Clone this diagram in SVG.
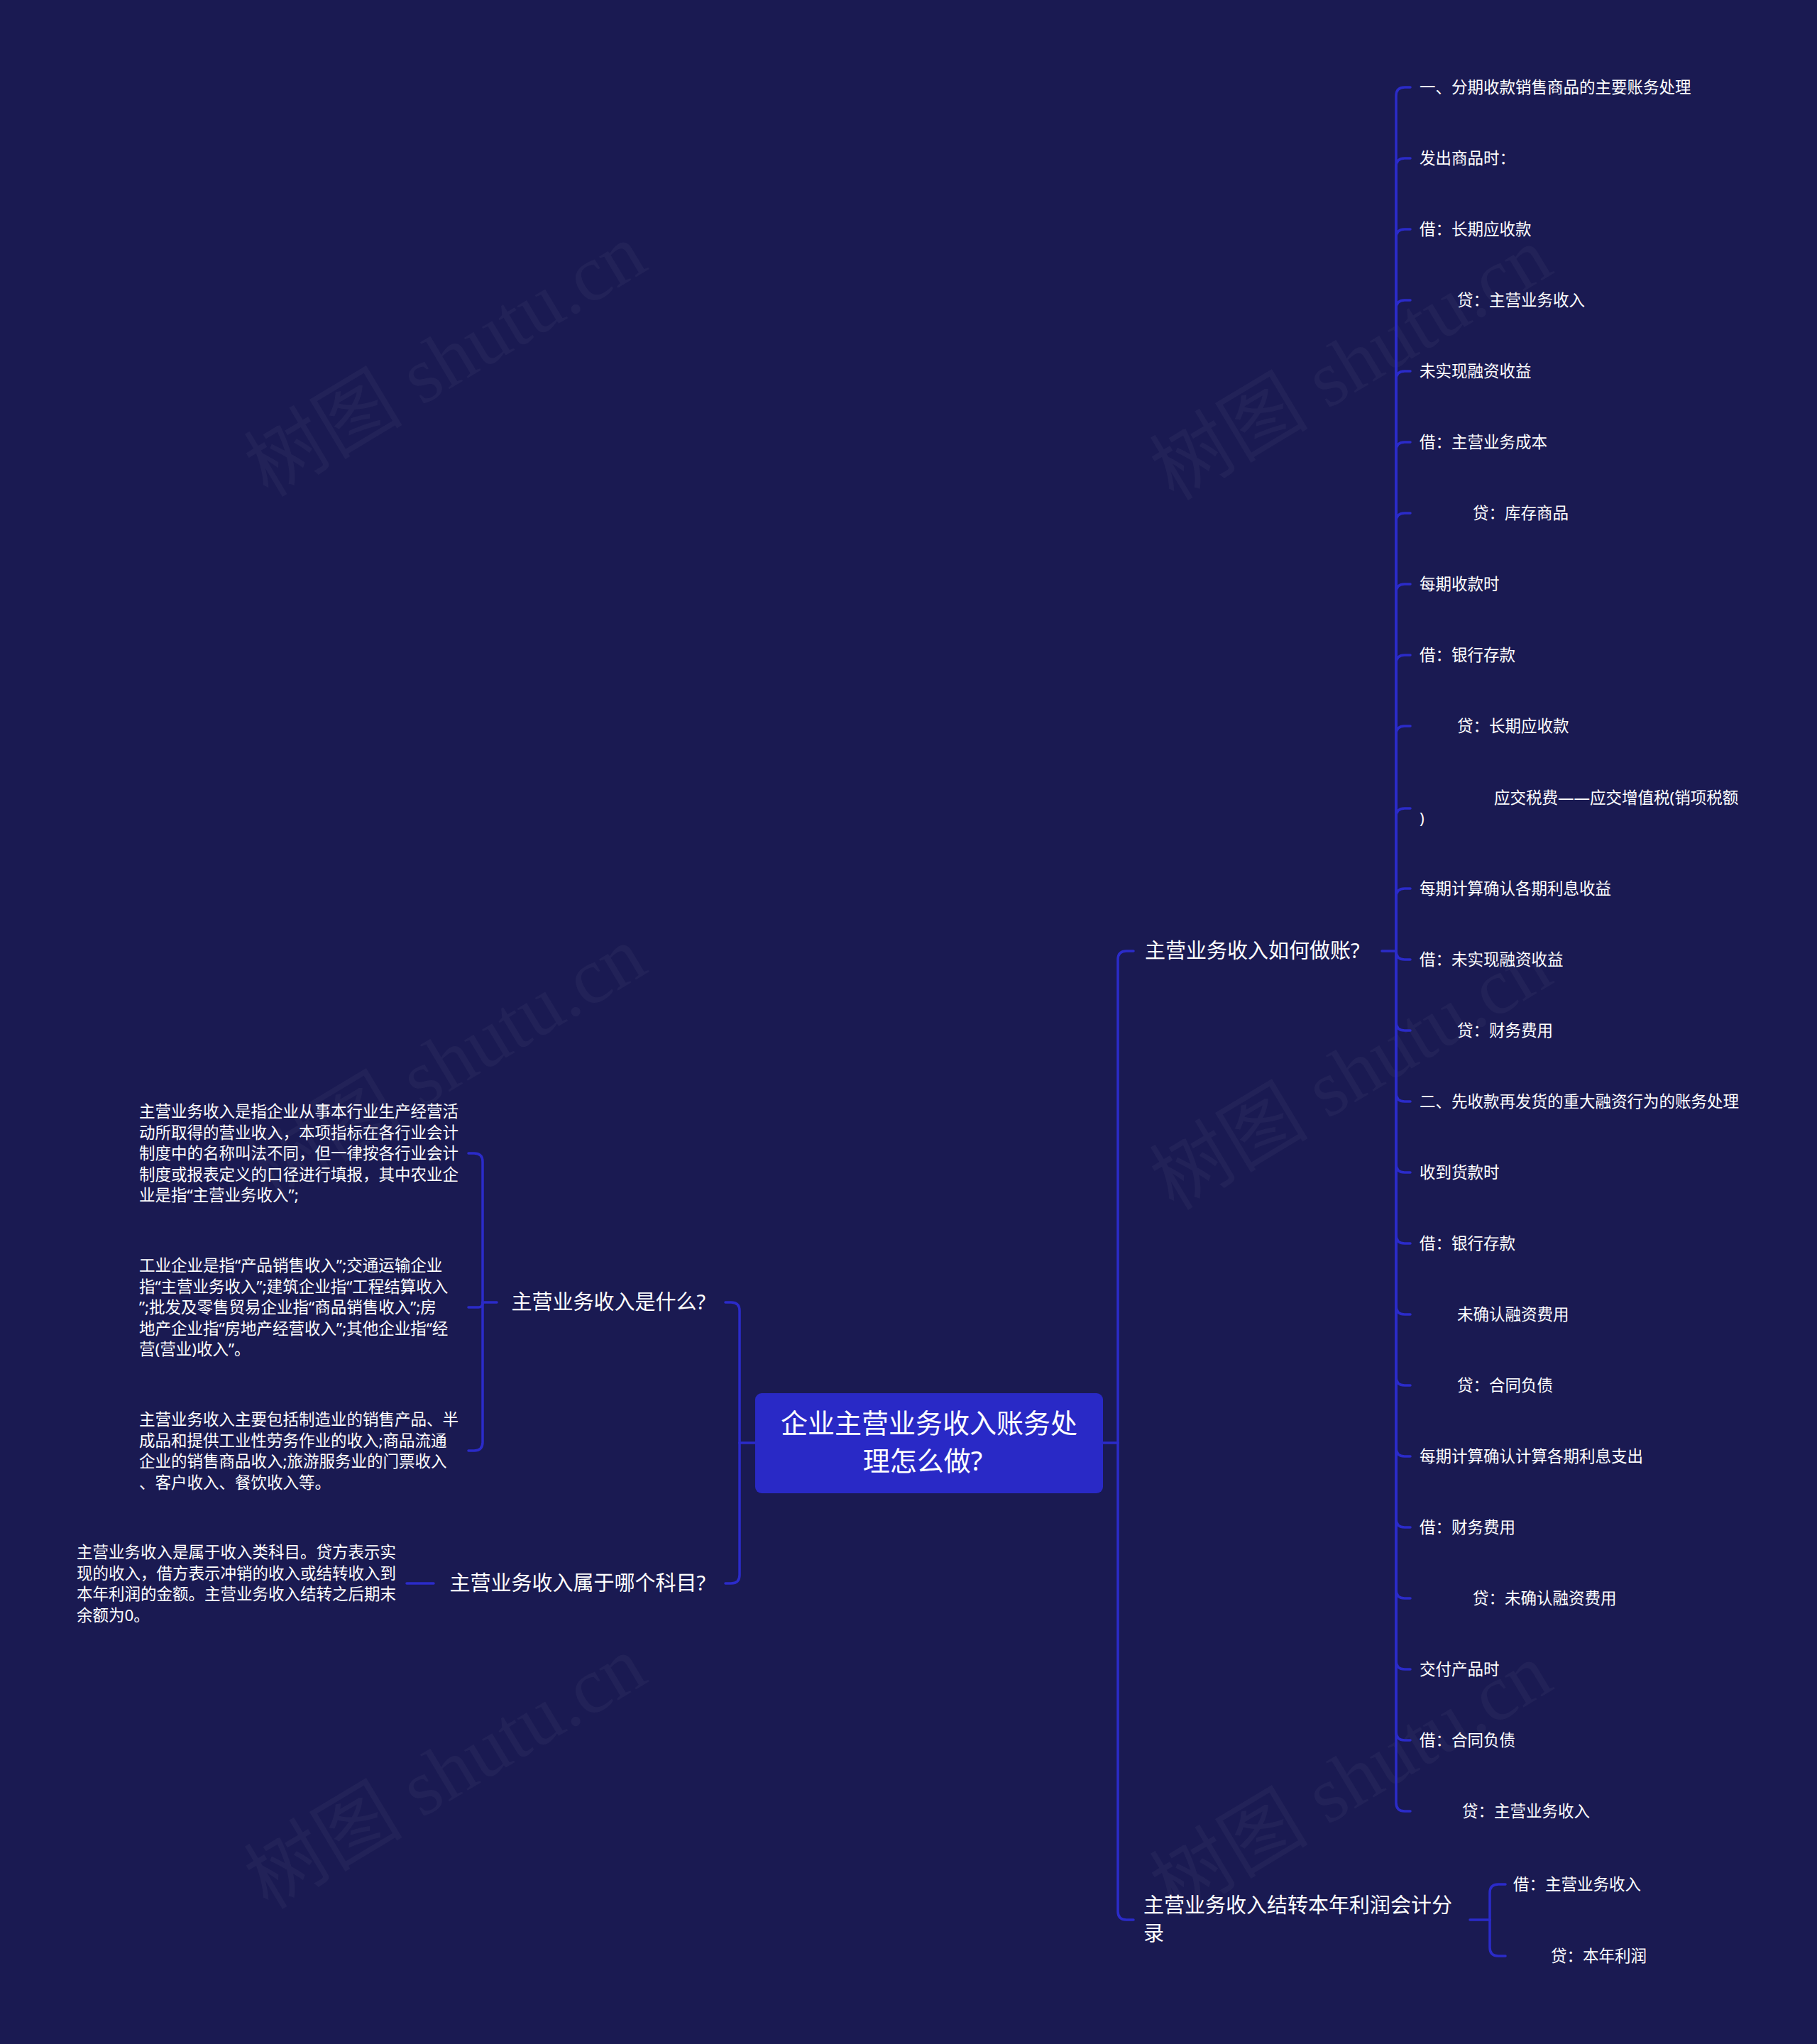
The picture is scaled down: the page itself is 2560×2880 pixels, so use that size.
<svg xmlns="http://www.w3.org/2000/svg" width="2560" height="2880" viewBox="0 0 2560 2880">
<style>
.bg{fill:#1a1a52}
.ln{fill:none;stroke:#2b2bc9;stroke-width:3.5;stroke-linecap:round}
.t{font-family:"Noto Sans","Noto Sans CJK SC",sans-serif;fill:#ffffff}
.s{font-size:22.5px}
.m{font-size:29px}
.r{font-size:38px}
.wm{font-family:"Liberation Serif","Noto Sans CJK SC",serif;font-size:112px;fill:#ffffff;fill-opacity:0.035}
</style>
<rect class="bg" x="0" y="0" width="2560" height="2880"/>
<g id="watermarks">
<text class="wm" text-anchor="middle" transform="translate(647,540) rotate(-31)">树图 shutu.cn</text>
<text class="wm" text-anchor="middle" transform="translate(1923,545) rotate(-31)">树图 shutu.cn</text>
<text class="wm" text-anchor="middle" transform="translate(647,1530) rotate(-31)">树图 shutu.cn</text>
<text class="wm" text-anchor="middle" transform="translate(1923,1545) rotate(-31)">树图 shutu.cn</text>
<text class="wm" text-anchor="middle" transform="translate(647,2530) rotate(-31)">树图 shutu.cn</text>
<text class="wm" text-anchor="middle" transform="translate(1923,2540) rotate(-31)">树图 shutu.cn</text>
</g>
<g id="connectors">
<path class="ln" d="M1554,2033 H1575"/>
<path class="ln" d="M1575,2033 V1352 Q1575,1340 1587,1340 H1597"/>
<path class="ln" d="M1575,2033 V2693 Q1575,2705 1587,2705 H1597"/>
<path class="ln" d="M1064,2033 H1042"/>
<path class="ln" d="M1042,2033 V1847 Q1042,1835 1030,1835 H1022"/>
<path class="ln" d="M1042,2033 V2219 Q1042,2231 1030,2231 H1022"/>
<path class="ln" d="M700,1835 H680"/>
<path class="ln" d="M680,1835 V1637 Q680,1625 668,1625 H660"/>
<path class="ln" d="M680,1835 V1836 Q680,1842 674,1842 H660"/>
<path class="ln" d="M680,1835 V2032 Q680,2044 668,2044 H660"/>
<path class="ln" d="M611,2231 H573"/>
<path class="ln" d="M2071,2705 H2099"/>
<path class="ln" d="M2099,2705 V2667 Q2099,2655 2111,2655 H2121"/>
<path class="ln" d="M2099,2705 V2744 Q2099,2756 2111,2756 H2121"/>
<path class="ln" d="M1947,1340 H1967"/>
<path class="ln" d="M1967,1340 V135 Q1967,123 1979,123 H1987"/>
<path class="ln" d="M1967,1340 V235 Q1967,223 1979,223 H1987"/>
<path class="ln" d="M1967,1340 V335 Q1967,323 1979,323 H1987"/>
<path class="ln" d="M1967,1340 V435 Q1967,423 1979,423 H1987"/>
<path class="ln" d="M1967,1340 V535 Q1967,523 1979,523 H1987"/>
<path class="ln" d="M1967,1340 V635 Q1967,623 1979,623 H1987"/>
<path class="ln" d="M1967,1340 V735 Q1967,723 1979,723 H1987"/>
<path class="ln" d="M1967,1340 V835 Q1967,823 1979,823 H1987"/>
<path class="ln" d="M1967,1340 V935 Q1967,923 1979,923 H1987"/>
<path class="ln" d="M1967,1340 V1035 Q1967,1023 1979,1023 H1987"/>
<path class="ln" d="M1967,1340 V1151 Q1967,1139 1979,1139 H1987"/>
<path class="ln" d="M1967,1340 V1264 Q1967,1252 1979,1252 H1987"/>
<path class="ln" d="M1967,1340 Q1967,1352 1979,1352 H1987"/>
<path class="ln" d="M1967,1340 V1440 Q1967,1452 1979,1452 H1987"/>
<path class="ln" d="M1967,1340 V1540 Q1967,1552 1979,1552 H1987"/>
<path class="ln" d="M1967,1340 V1640 Q1967,1652 1979,1652 H1987"/>
<path class="ln" d="M1967,1340 V1740 Q1967,1752 1979,1752 H1987"/>
<path class="ln" d="M1967,1340 V1840 Q1967,1852 1979,1852 H1987"/>
<path class="ln" d="M1967,1340 V1940 Q1967,1952 1979,1952 H1987"/>
<path class="ln" d="M1967,1340 V2040 Q1967,2052 1979,2052 H1987"/>
<path class="ln" d="M1967,1340 V2140 Q1967,2152 1979,2152 H1987"/>
<path class="ln" d="M1967,1340 V2240 Q1967,2252 1979,2252 H1987"/>
<path class="ln" d="M1967,1340 V2340 Q1967,2352 1979,2352 H1987"/>
<path class="ln" d="M1967,1340 V2440 Q1967,2452 1979,2452 H1987"/>
<path class="ln" d="M1967,1340 V2540 Q1967,2552 1979,2552 H1987"/>
</g>
<g id="root">
<rect x="1064" y="1963" width="490" height="141" rx="9" fill="#2929c6"/>
<text class="t r" text-anchor="middle"><tspan x="1309" y="2019">企业主营业务收入账务处</tspan><tspan x="1300" y="2072">理怎么做?</tspan></text>
</g>
<g id="n-how"><text class="t m" x="1613" y="1350">主营业务收入如何做账?</text></g>
<g id="n-transfer"><text class="t m"><tspan x="1611" y="2695">主营业务收入结转本年利润会计分</tspan><tspan x="1611" y="2735">录</tspan></text></g>
<g id="n-what"><text class="t m" x="994" y="1845" text-anchor="end">主营业务收入是什么?</text></g>
<g id="n-subject"><text class="t m" x="994" y="2241" text-anchor="end">主营业务收入属于哪个科目?</text></g>
<g id="n-what-1"><text class="t s"><tspan x="196" y="1574">主营业务收入是指企业从事本行业生产经营活</tspan><tspan x="196" y="1603.5">动所取得的营业收入，本项指标在各行业会计</tspan><tspan x="196" y="1633">制度中的名称叫法不同，但一律按各行业会计</tspan><tspan x="196" y="1662.5">制度或报表定义的口径进行填报，其中农业企</tspan><tspan x="196" y="1692">业是指“主营业务收入”;</tspan></text></g>
<g id="n-what-2"><text class="t s"><tspan x="196" y="1791">工业企业是指“产品销售收入”;交通运输企业</tspan><tspan x="196" y="1820.5">指“主营业务收入”;建筑企业指“工程结算收入</tspan><tspan x="196" y="1850">”;批发及零售贸易企业指“商品销售收入”;房</tspan><tspan x="196" y="1879.5">地产企业指“房地产经营收入”;其他企业指“经</tspan><tspan x="196" y="1909">营(营业)收入”。</tspan></text></g>
<g id="n-what-3"><text class="t s"><tspan x="196" y="2008">主营业务收入主要包括制造业的销售产品、半</tspan><tspan x="196" y="2037.5">成品和提供工业性劳务作业的收入;商品流通</tspan><tspan x="196" y="2067">企业的销售商品收入;旅游服务业的门票收入</tspan><tspan x="196" y="2096.5">、客户收入、餐饮收入等。</tspan></text></g>
<g id="n-subject-1"><text class="t s"><tspan x="108" y="2195">主营业务收入是属于收入类科目。贷方表示实</tspan><tspan x="108" y="2224.5">现的收入，借方表示冲销的收入或结转收入到</tspan><tspan x="108" y="2254">本年利润的金额。主营业务收入结转之后期末</tspan><tspan x="108" y="2283.5">余额为0。</tspan></text></g>
<g id="n-tr-1"><text class="t s" x="2132" y="2663">借：主营业务收入</text></g>
<g id="n-tr-2"><text class="t s" x="2185" y="2764">贷：本年利润</text></g>
<g id="leaf-1"><text class="t s" x="2000" y="131">一、分期收款销售商品的主要账务处理</text></g>
<g id="leaf-2"><text class="t s" x="2000" y="231">发出商品时：</text></g>
<g id="leaf-3"><text class="t s" x="2000" y="331">借：长期应收款</text></g>
<g id="leaf-4"><text class="t s" x="2053" y="431">贷：主营业务收入</text></g>
<g id="leaf-5"><text class="t s" x="2000" y="531">未实现融资收益</text></g>
<g id="leaf-6"><text class="t s" x="2000" y="631">借：主营业务成本</text></g>
<g id="leaf-7"><text class="t s" x="2075" y="731">贷：库存商品</text></g>
<g id="leaf-8"><text class="t s" x="2000" y="831">每期收款时</text></g>
<g id="leaf-9"><text class="t s" x="2000" y="931">借：银行存款</text></g>
<g id="leaf-10"><text class="t s" x="2053" y="1031">贷：长期应收款</text></g>
<g id="leaf-11"><text class="t s"><tspan x="2105" y="1132">应交税费——应交增值税(销项税额</tspan><tspan x="2000" y="1161">)</tspan></text></g>
<g id="leaf-12"><text class="t s" x="2000" y="1260">每期计算确认各期利息收益</text></g>
<g id="leaf-13"><text class="t s" x="2000" y="1360">借：未实现融资收益</text></g>
<g id="leaf-14"><text class="t s" x="2053" y="1460">贷：财务费用</text></g>
<g id="leaf-15"><text class="t s" x="2000" y="1560">二、先收款再发货的重大融资行为的账务处理</text></g>
<g id="leaf-16"><text class="t s" x="2000" y="1660">收到货款时</text></g>
<g id="leaf-17"><text class="t s" x="2000" y="1760">借：银行存款</text></g>
<g id="leaf-18"><text class="t s" x="2053" y="1860">未确认融资费用</text></g>
<g id="leaf-19"><text class="t s" x="2053" y="1960">贷：合同负债</text></g>
<g id="leaf-20"><text class="t s" x="2000" y="2060">每期计算确认计算各期利息支出</text></g>
<g id="leaf-21"><text class="t s" x="2000" y="2160">借：财务费用</text></g>
<g id="leaf-22"><text class="t s" x="2075" y="2260">贷：未确认融资费用</text></g>
<g id="leaf-23"><text class="t s" x="2000" y="2360">交付产品时</text></g>
<g id="leaf-24"><text class="t s" x="2000" y="2460">借：合同负债</text></g>
<g id="leaf-25"><text class="t s" x="2060" y="2560">贷：主营业务收入</text></g>
</svg>
